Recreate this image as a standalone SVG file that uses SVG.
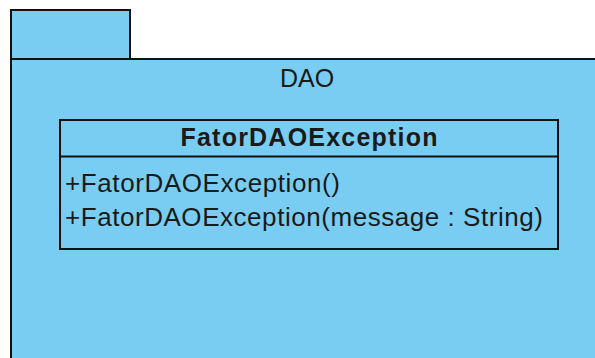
<svg xmlns="http://www.w3.org/2000/svg" width="595" height="358" viewBox="0 0 595 358">
  <style>
    .pkg { fill: #79cdf2; stroke: #111; stroke-width: 2; }
    .cls { fill: #79cdf2; stroke: #111; stroke-width: 2; }
    .txt { font-family: "Liberation Sans", Arial, sans-serif; fill: #1a1a1a; }
    .title { font-weight: bold; font-size: 25px; }
    .member { font-size: 26px; }
  </style>

  <!-- DAO package -->
  <g id="package-DAO">
    <rect class="pkg" x="11" y="10" width="119" height="49"/>
    <rect class="pkg" x="11" y="59" width="600" height="310"/>
    <text class="txt" x="307" y="87" font-size="25" text-anchor="middle">DAO</text>
  </g>

  <!-- FatorDAOException class -->
  <g id="class-FatorDAOException">
    <rect class="cls" x="60" y="120" width="498" height="129"/>
    <line x1="60" y1="156.5" x2="558" y2="156.5" stroke="#111" stroke-width="2"/>
    <text class="txt title" x="309" y="146" text-anchor="middle" textLength="257" lengthAdjust="spacing">FatorDAOException</text>
    <text class="txt member" x="65" y="192" textLength="275" lengthAdjust="spacing">+FatorDAOException()</text>
    <text class="txt member" x="65" y="226" textLength="478" lengthAdjust="spacing">+FatorDAOException(message : String)</text>
  </g>

  <g id="connectors"/>
</svg>
